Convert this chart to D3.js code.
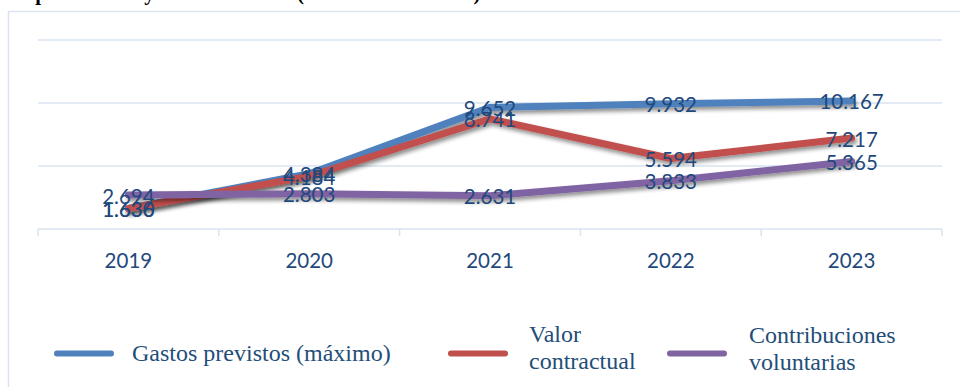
<!DOCTYPE html>
<html>
<head>
<meta charset="utf-8">
<script src="https://cdn.jsdelivr.net/npm/d3@7/dist/d3.min.js"></script>
<style>
  html, body { margin: 0; padding: 0; background: #fff; }
  svg { display: block; }
</style>
</head>
<body>
<svg id="chart" width="960" height="387"></svg>
<script>
// Years on the category axis
const years = ["2019", "2020", "2021", "2022", "2023"];

// Series values (monetary amounts, thousands separator ".")
const gastosPrevistos = [1636, 4384, 9652, 9932, 10167];
const valorContractual = [1630, 4184, 8741, 5594, 7217];
const contribucionesVoluntarias = [2694, 2803, 2631, 3833, 5365];

// Value-axis gridline positions
const gridTicks = [5000, 10000, 15000];

const seriesNames = ["Gastos previstos (máximo)", "Valor contractual", "Contribuciones voluntarias"];

const series = [
  { name: seriesNames[0], values: gastosPrevistos, color: "#4F81BD" },
  { name: seriesNames[1], values: valorContractual, color: "#C0504D" },
  { name: seriesNames[2], values: contribucionesVoluntarias, color: "#8064A2" }
];

const svg = d3.select("#chart");
const labelColor = "#1F497D";
const gridColor = "#D9E3F1";

const locale = d3.formatLocale({ decimal: ",", thousands: ".", grouping: [3], currency: ["", ""] });
const fmt = locale.format(",d");

// drop shadow used by the lines
const defs = svg.append("defs");
const f = defs.append("filter").attr("id", "shadow")
  .attr("x", "-10%").attr("y", "-30%").attr("width", "120%").attr("height", "160%");
f.append("feGaussianBlur").attr("in", "SourceAlpha").attr("stdDeviation", 2.2).attr("result", "b");
f.append("feOffset").attr("in", "b").attr("dx", 2).attr("dy", 3).attr("result", "o");
f.append("feComponentTransfer").attr("in", "o").attr("result", "s")
  .append("feFuncA").attr("type", "linear").attr("slope", 0.45);
const m = f.append("feMerge");
m.append("feMergeNode").attr("in", "s");
m.append("feMergeNode").attr("in", "SourceGraphic");

// title line above the chart frame
svg.append("text")
  .attr("x", 20).attr("y", 0)
  .attr("font-family", "'Liberation Serif', 'Times New Roman', serif")
  .attr("font-weight", "bold")
  .attr("font-size", 21)
  .attr("fill", "#000")
  .text("Aportaciones y contribuciones (en miles de dólares)");

// chart frame
svg.append("rect")
  .attr("x", 8.5).attr("y", 11.5)
  .attr("width", 1000).attr("height", 500)
  .attr("fill", "none")
  .attr("stroke", gridColor)
  .attr("stroke-width", 1.5);

const x = d3.scaleBand().domain(years).range([38, 942]).padding(0);
const cx = d => x(d) + x.bandwidth() / 2;
const y = d3.scaleLinear().domain([0, 15000]).range([229, 40]);

// gridlines
svg.append("g").selectAll("line").data(gridTicks).join("line")
  .attr("x1", 38).attr("x2", 942)
  .attr("y1", d => y(d)).attr("y2", d => y(d))
  .attr("stroke", gridColor).attr("stroke-width", 1.5);

// category axis with ticks between categories
const axis = svg.append("g");
axis.append("line")
  .attr("x1", 38).attr("x2", 942)
  .attr("y1", y(0)).attr("y2", y(0))
  .attr("stroke", gridColor).attr("stroke-width", 1.5);
const tickXs = years.map(d => x(d)).concat([x.range()[1]]);
axis.selectAll("line.tick").data(tickXs).join("line")
  .attr("class", "tick")
  .attr("x1", d => d).attr("x2", d => d)
  .attr("y1", y(0)).attr("y2", y(0) + 7)
  .attr("stroke", gridColor).attr("stroke-width", 1.5);
axis.selectAll("text").data(years).join("text")
  .attr("x", d => cx(d)).attr("y", 268)
  .attr("text-anchor", "middle")
  .attr("font-family", "Lato, 'Open Sans', sans-serif")
  .attr("font-size", 20.5)
  .attr("fill", labelColor)
  .text(d => d);

// lines
const line = d3.line().x((v, i) => cx(years[i])).y(v => y(v));
svg.append("g").selectAll("path").data(series).join("path")
  .attr("d", s => line(s.values))
  .attr("fill", "none")
  .attr("stroke", s => s.color)
  .attr("stroke-width", 7)
  .attr("stroke-linecap", "round")
  .attr("stroke-linejoin", "round")
  .attr("filter", "url(#shadow)");

// data labels centred on points
const lbl = svg.append("g");
series.forEach(s => {
  lbl.selectAll(null).data(s.values).join("text")
    .attr("x", (v, i) => cx(years[i]))
    .attr("y", v => y(v) + 8.5)
    .attr("text-anchor", "middle")
    .attr("font-family", "Lato, 'Open Sans', sans-serif")
    .attr("font-size", 20.5)
    .attr("fill", labelColor)
    .text(v => fmt(v));
});

// legend
const legend = svg.append("g")
  .attr("font-family", "'Liberation Serif', 'Times New Roman', serif")
  .attr("font-size", 24)
  .attr("fill", "#1F4E79");
const legendItems = [
  { s: series[0], sx: 57, tx: 132, lines: ["Gastos previstos (máximo)"], by: 361 },
  { s: series[1], sx: 451, tx: 529, lines: ["Valor", "contractual"], by: 342 },
  { s: series[2], sx: 670, tx: 749, lines: ["Contribuciones", "voluntarias"], by: 343 }
];
legendItems.forEach(it => {
  legend.append("line")
    .attr("x1", it.sx).attr("x2", it.sx + 54)
    .attr("y1", 353.5).attr("y2", 353.5)
    .attr("stroke", it.s.color).attr("stroke-width", 6)
    .attr("stroke-linecap", "round");
  const t = legend.append("text").attr("x", it.tx).attr("y", it.by);
  it.lines.forEach((l, i) => {
    t.append("tspan").attr("x", it.tx).attr("dy", i === 0 ? 0 : 26.7).text(l);
  });
});
</script>
</body>
</html>
